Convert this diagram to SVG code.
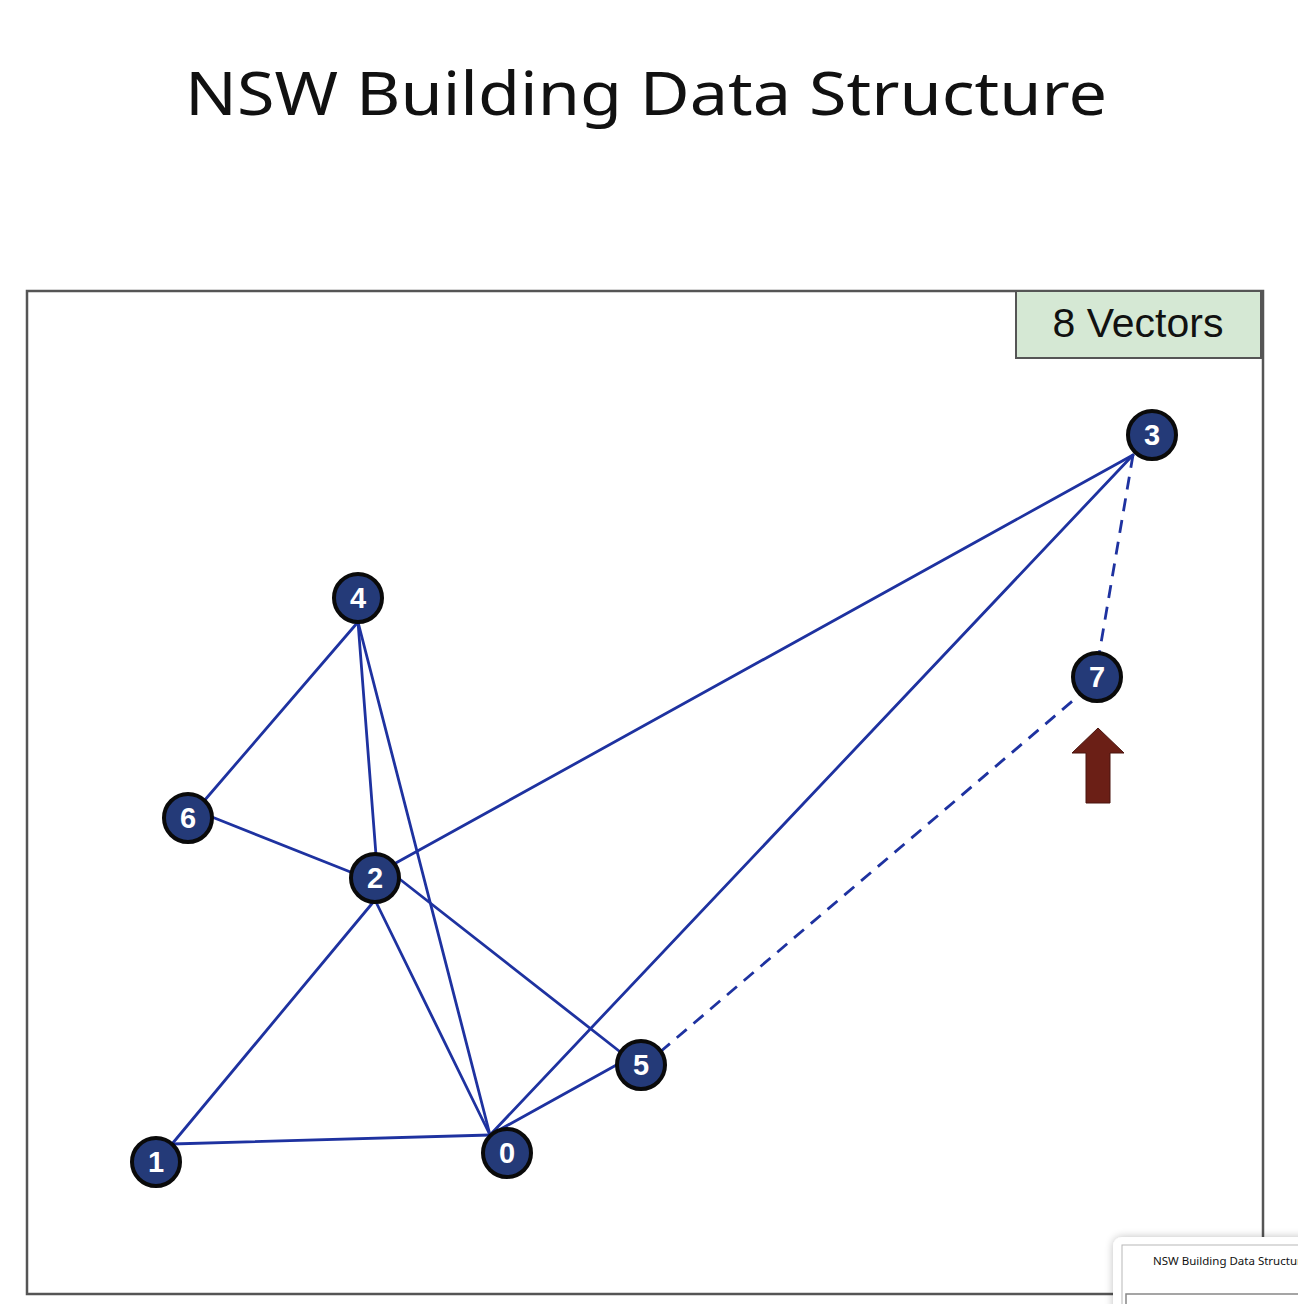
<svg xmlns="http://www.w3.org/2000/svg" width="1298" height="1304" viewBox="0 0 1298 1304">
  <defs>
    <style>
      .title { font-family: "Noto Sans", "Open Sans", "Liberation Sans", sans-serif; font-size: 60px; fill: #111; }
      .edge { stroke: #1e32a0; stroke-width: 2.8; fill: none; stroke-linecap: round; }
      .dash { stroke-dasharray: 13 9; stroke-linecap: butt; }
      .node circle { fill: #243a78; stroke: #0a0a0a; stroke-width: 4; }
      .node text { font-family: "Liberation Sans", Arial, sans-serif; font-weight: bold; font-size: 29px; fill: #ffffff; text-anchor: middle; }
      .label { font-family: "Liberation Sans", Arial, sans-serif; font-size: 41px; fill: #111; text-anchor: middle; }
    </style>
    <filter id="shadow" x="-20%" y="-20%" width="140%" height="140%">
      <feGaussianBlur in="SourceAlpha" stdDeviation="4"/>
      <feComponentTransfer><feFuncA type="linear" slope="0.25"/></feComponentTransfer>
      <feMerge><feMergeNode/><feMergeNode in="SourceGraphic"/></feMerge>
    </filter>
    <clipPath id="cardclip"><rect x="1113" y="1237" width="185" height="67"/></clipPath>
  </defs>
  <rect width="1298" height="1304" fill="#ffffff"/>

  <text class="title" x="646" y="115" text-anchor="middle" textLength="922" lengthAdjust="spacingAndGlyphs">NSW Building Data Structure</text>

  <g id="frame">
    <rect x="27" y="291" width="1236" height="1003" fill="#ffffff" stroke="#555555" stroke-width="2.5"/>
  </g>

  <g id="vectors-label">
    <rect x="1016" y="291" width="245" height="67" fill="#d5e8d4" stroke="#555555" stroke-width="2"/>
    <text class="label" x="1138" y="337">8 Vectors</text>
  </g>

  <g id="connectors">
    <line class="edge" x1="358" y1="622" x2="204" y2="801"/>
    <line class="edge" x1="358" y1="622" x2="376" y2="855"/>
    <line class="edge" x1="358" y1="622" x2="490" y2="1135"/>
    <line class="edge" x1="212" y1="817" x2="353" y2="873"/>
    <line class="edge" x1="394" y1="864" x2="1133" y2="455"/>
    <line class="edge" x1="397" y1="877" x2="628" y2="1058"/>
    <line class="edge" x1="375" y1="900" x2="172" y2="1144"/>
    <line class="edge" x1="375" y1="900" x2="490" y2="1135"/>
    <line class="edge" x1="172" y1="1144" x2="490" y2="1135"/>
    <line class="edge" x1="490" y1="1135" x2="620" y2="1063"/>
    <line class="edge" x1="490" y1="1135" x2="1133" y2="455"/>
    <line class="edge dash" x1="660" y1="1052" x2="1076" y2="698"/>
    <line class="edge dash" x1="1133" y1="455" x2="1099" y2="655"/>
  </g>

  <g id="node-0" class="node"><circle cx="507" cy="1153" r="24"/><text x="507" y="1163">0</text></g>
  <g id="node-1" class="node"><circle cx="156" cy="1162" r="24"/><text x="156" y="1172">1</text></g>
  <g id="node-2" class="node"><circle cx="375" cy="878" r="24"/><text x="375" y="888">2</text></g>
  <g id="node-3" class="node"><circle cx="1152" cy="435" r="24"/><text x="1152" y="445">3</text></g>
  <g id="node-4" class="node"><circle cx="358" cy="598" r="24"/><text x="358" y="608">4</text></g>
  <g id="node-5" class="node"><circle cx="641" cy="1065" r="24"/><text x="641" y="1075">5</text></g>
  <g id="node-6" class="node"><circle cx="188" cy="818" r="24"/><text x="188" y="828">6</text></g>
  <g id="node-7" class="node"><circle cx="1097" cy="677" r="24"/><text x="1097" y="687">7</text></g>

  <g id="arrow">
    <polygon points="1098,728 1124,753 1110,753 1110,803 1086,803 1086,753 1072,753" fill="#6b1f16" stroke="#4a150f" stroke-width="1"/>
  </g>

  <g id="thumbnail">
    <rect x="1113" y="1237" width="200" height="90" rx="9" fill="#ffffff" filter="url(#shadow)"/>
    <g clip-path="url(#cardclip)">
      <rect x="1122" y="1245" width="200" height="80" fill="#ffffff" stroke="#b8b8b8" stroke-width="1"/>
      <text x="1153" y="1265" font-family="Noto Sans, Open Sans, Liberation Sans, sans-serif" font-size="11.5" fill="#111">NSW Building Data Structure</text>
      <rect x="1126" y="1294" width="200" height="30" fill="#ffffff" stroke="#888888" stroke-width="1.5"/>
    </g>
  </g>
</svg>
